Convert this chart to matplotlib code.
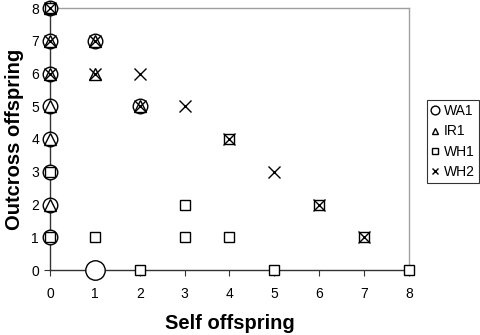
import matplotlib
matplotlib.use("Agg")
import matplotlib.pyplot as plt

plt.rcParams['font.family'] = ['Liberation Sans', 'DejaVu Sans']

# Data
wa1_x = [0, 0, 0, 0, 0, 0, 0, 0, 1, 2]
wa1_y = [8, 7, 6, 5, 4, 3, 2, 1, 7, 5]
wa1_big_x = [1]
wa1_big_y = [0]
ir1_x = [0, 0, 0, 0, 0, 0, 1, 1, 2]
ir1_y = [8, 7, 6, 5, 4, 2, 7, 6, 5]
wh1_x = [0, 0, 0, 1, 2, 3, 3, 4, 4, 5, 6, 7, 8]
wh1_y = [8, 3, 1, 1, 0, 2, 1, 1, 4, 0, 2, 1, 0]
wh2_x = [0, 0, 0, 1, 1, 2, 2, 3, 4, 5, 6, 7]
wh2_y = [8, 7, 6, 7, 6, 6, 5, 5, 4, 3, 2, 1]
x_ticks = [0, 1, 2, 3, 4, 5, 6, 7, 8]
y_ticks = [0, 1, 2, 3, 4, 5, 6, 7, 8]

fig = plt.figure(figsize=(4.81, 3.35), dpi=100)
ax = fig.add_axes([50/481, 1-270/335, (409-50)/481, (270-8)/335])

ax.plot(wa1_x, wa1_y, marker='o', markersize=10.5, label='WA1', zorder=3,
        linestyle='none', clip_on=False, markeredgecolor='black',
        markerfacecolor='white', markeredgewidth=1.0)
ax.plot(wa1_big_x, wa1_big_y, marker='o', markersize=14, zorder=3,
        linestyle='none', clip_on=False, markeredgecolor='black',
        markerfacecolor='white', markeredgewidth=1.0)
ax.plot(ir1_x, ir1_y, marker='^', markersize=8, label='IR1', zorder=4,
        linestyle='none', clip_on=False, markeredgecolor='black',
        markerfacecolor='none', markeredgewidth=1.0)
ax.plot(wh1_x, wh1_y, marker='s', markersize=7.5, label='WH1', zorder=5,
        linestyle='none', clip_on=False, markeredgecolor='black',
        markerfacecolor='white', markeredgewidth=1.0)
ax.plot(wh2_x, wh2_y, marker='x', markersize=8, label='WH2', zorder=6,
        linestyle='none', clip_on=False, color='black', markeredgewidth=1.0)

ax.set_xlim(0, 8)
ax.set_ylim(0, 8)
ax.set_xticks(x_ticks)
ax.set_yticks(y_ticks)
ax.tick_params(labelsize=10, length=4, width=0.8, color='#333333', pad=4)
ax.tick_params(axis='x', pad=8)

for s in ['left', 'bottom']:
    ax.spines[s].set_color('#333333')
    ax.spines[s].set_linewidth(1.0)
for s in ['top', 'right']:
    ax.spines[s].set_color('#a0a0a0')
    ax.spines[s].set_linewidth(1.0)

ax.set_xlabel('Self offspring', fontsize=14.5, fontweight='bold')
ax.set_ylabel('Outcross offspring', fontsize=14.5, fontweight='bold')
ax.xaxis.set_label_coords(0.5, (270-314)/262)
ax.yaxis.set_label_coords((24-50)/359, 0.5)

leg = ax.legend(loc='upper left', bbox_to_anchor=(427/481, 1-100/335),
                bbox_transform=fig.transFigure, frameon=True, fancybox=False,
                fontsize=10, handlelength=0.6, handletextpad=0.3,
                borderpad=0.3, labelspacing=0.45, markerscale=0.6,
                borderaxespad=0)
leg.get_frame().set_edgecolor('black')
leg.get_frame().set_linewidth(0.8)

fig.savefig('out.png', dpi=100)
